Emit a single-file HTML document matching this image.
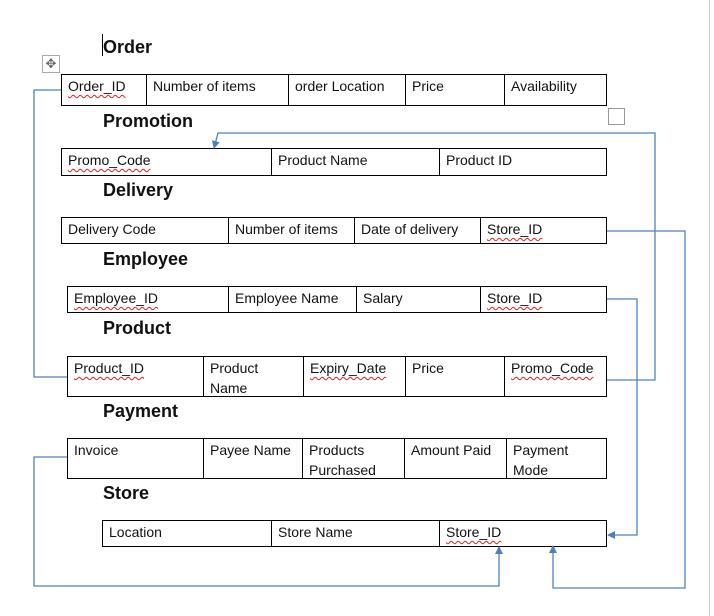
<!DOCTYPE html>
<html><head><style>
body{margin:0;width:714px;height:616px;background:#fff;position:relative;overflow:hidden;font-family:"Liberation Sans",sans-serif}
.t{position:absolute;border:1px solid #000;box-sizing:border-box}
.c{position:absolute;top:0;bottom:0;border-left:1px solid #000;font-size:14px;padding:1px 0 0 6px;line-height:20px;color:#111;box-sizing:border-box}
.c:first-child{border-left:none}
.h{position:absolute;left:103px;font-weight:bold;font-size:18px;color:#111}
.u{text-decoration:underline wavy #e02020;text-decoration-thickness:1px;text-underline-offset:3px}
</style></head><body>
<div style="position:absolute;left:709px;top:0;width:1px;height:616px;background:#ccc"></div>
<div style="position:absolute;left:102px;top:34px;width:1px;height:22px;background:#000"></div>
<div style="position:absolute;left:42px;top:55px;width:16px;height:16px;border:1px solid #aaa;font-size:13px;line-height:16px;text-align:center;color:#666">✥</div>
<div style="position:absolute;left:608px;top:108px;width:17px;height:17px;border:1px solid #999;box-sizing:border-box"></div>

<div class="h" style="top:37px">Order</div>
<div class="t" style="left:61px;top:74px;width:546px;height:32px">
<div class="c" style="left:0;width:84px"><span class="u">Order_ID</span></div>
<div class="c" style="left:84px;width:142px">Number of items</div>
<div class="c" style="left:226px;width:117px">order Location</div>
<div class="c" style="left:343px;width:99px">Price</div>
<div class="c" style="left:442px;width:103px">Availability</div></div>

<div class="h" style="top:111px">Promotion</div>
<div class="t" style="left:61px;top:148px;width:546px;height:28px">
<div class="c" style="left:0;width:209px"><span class="u">Promo_Code</span></div>
<div class="c" style="left:209px;width:168px">Product Name</div>
<div class="c" style="left:377px;width:168px">Product ID</div></div>

<div class="h" style="top:180px">Delivery</div>
<div class="t" style="left:61px;top:217px;width:546px;height:27px">
<div class="c" style="left:0;width:166px">Delivery Code</div>
<div class="c" style="left:166px;width:126px">Number of items</div>
<div class="c" style="left:292px;width:126px">Date of delivery</div>
<div class="c" style="left:418px;width:127px"><span class="u">Store_ID</span></div></div>

<div class="h" style="top:249px">Employee</div>
<div class="t" style="left:67px;top:286px;width:540px;height:27px">
<div class="c" style="left:0;width:160px"><span class="u">Employee_ID</span></div>
<div class="c" style="left:160px;width:128px">Employee Name</div>
<div class="c" style="left:288px;width:124px">Salary</div>
<div class="c" style="left:412px;width:127px"><span class="u">Store_ID</span></div></div>

<div class="h" style="top:318px">Product</div>
<div class="t" style="left:67px;top:356px;width:540px;height:41px">
<div class="c" style="left:0;width:135px"><span class="u">Product_ID</span></div>
<div class="c" style="left:135px;width:100px">Product<br>Name</div>
<div class="c" style="left:235px;width:102px"><span class="u">Expiry_Date</span></div>
<div class="c" style="left:337px;width:99px">Price</div>
<div class="c" style="left:436px;width:103px"><span class="u">Promo_Code</span></div></div>

<div class="h" style="top:401px">Payment</div>
<div class="t" style="left:67px;top:438px;width:540px;height:41px">
<div class="c" style="left:0;width:135px">Invoice</div>
<div class="c" style="left:135px;width:99px">Payee Name</div>
<div class="c" style="left:234px;width:102px">Products<br>Purchased</div>
<div class="c" style="left:336px;width:102px">Amount Paid</div>
<div class="c" style="left:438px;width:101px">Payment<br>Mode</div></div>

<div class="h" style="top:483px">Store</div>
<div class="t" style="left:102px;top:520px;width:505px;height:27px">
<div class="c" style="left:0;width:168px">Location</div>
<div class="c" style="left:168px;width:168px">Store Name</div>
<div class="c" style="left:336px;width:168px"><span class="u">Store_ID</span></div></div>

<svg width="714" height="616" style="position:absolute;left:0;top:0" fill="none" stroke="#4f81bd" stroke-width="1.3">
<defs><marker id="a" markerWidth="8" markerHeight="8" refX="7" refY="4" orient="auto" markerUnits="userSpaceOnUse"><path d="M0,0L8,4L0,8z" fill="#4f81bd" stroke="none"/></marker></defs>
<polyline points="61,90 34,90 34,377 67,377"/>
<polyline points="607,380 655,380 655,133 218,133 214,148" marker-end="url(#a)"/>
<polyline points="607,231 685,231 685,588 553,588 553,546" marker-end="url(#a)"/>
<polyline points="607,299 637,299 637,535 608,535" marker-end="url(#a)"/>
<polyline points="67,457 34,457 34,586 499,586 499,547" marker-end="url(#a)"/>
</svg>
</body></html>
